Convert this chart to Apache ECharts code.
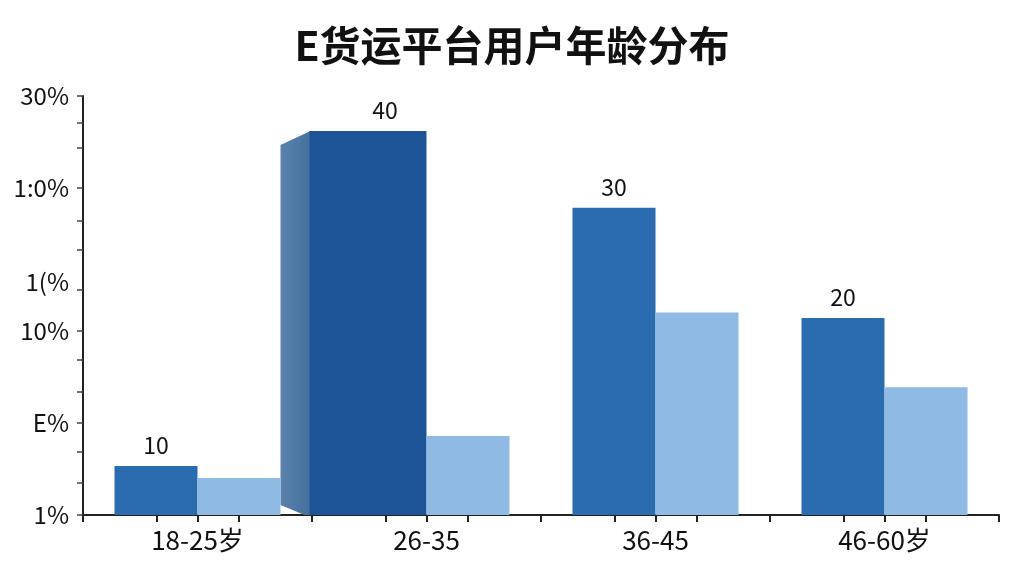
<!DOCTYPE html>
<html><head><meta charset="utf-8">
<script src="https://cdn.jsdelivr.net/npm/echarts@6/dist/echarts.min.js"></script>
<style>html,body{margin:0;padding:0;background:#fff}#c{width:1024px;height:576px}</style>
</head><body><div id="c"></div>
<script>
const categories = ['18-25岁', '26-35', '36-45', '46-60岁'];
const darkValues = [3.5, 27.5, 22.0, 14.1];
const lightValues = [2.65, 5.65, 14.5, 9.15];
const darkLabels = ['10', '40', '30', '20'];
const yLabelValues = [0, 6.6, 13.2, 16.7, 23.4, 30];
const yLabelTexts = ['1%', 'E%', '10%', '1(%', '1:0%', '30%'];
const yTickValues = [0, 2.3, 4.5, 6.6, 8.8, 11.1, 13.2, 16.1, 19.0, 21.1, 23.4, 26.3, 28.1, 30];
const xTickValues = [-0.5, -0.18, 0, 0.18, 0.5, 0.82, 1, 1.18, 1.5, 1.82, 2, 2.18, 2.5, 2.82, 3, 3.18, 3.5];
const wideBarIndex = [1];

const chart = echarts.init(document.getElementById('c'), null, {renderer: 'canvas'});
const font = '"Noto Sans CJK SC", "Noto Sans", sans-serif';
chart.setOption({
  backgroundColor: '#fff',
  animation: false,
  title: {
    text: 'E货运平台用户年龄分布', left: 'center', top: 20,
    textStyle: {fontFamily: font, fontSize: 41, fontWeight: 'bold', color: '#111'}
  },
  grid: {left: 83, right: 25, top: 96, bottom: 61, containLabel: false},
  xAxis: [{
    type: 'category', data: categories,
    axisLine: {lineStyle: {color: '#222', width: 2}},
    axisTick: {show: false},
    axisLabel: {fontFamily: font, fontSize: 26, color: '#111', margin: 12}
  }, {
    type: 'value', min: -0.5, max: 3.5, position: 'bottom',
    axisLine: {show: false}, splitLine: {show: false},
    axisLabel: {show: false},
    axisTick: {show: true, length: 7, inside: false, customValues: xTickValues, lineStyle: {color: '#222', width: 2}}
  }],
  yAxis: {
    type: 'value', min: 0, max: 30,
    axisLine: {show: true, onZero: false, lineStyle: {color: '#222', width: 2}},
    splitLine: {show: false},
    axisTick: {show: true, length: 6, customValues: yTickValues, lineStyle: {color: '#444', width: 1.5}},
    axisLabel: {
      customValues: yLabelValues, margin: 14,
      fontFamily: font, fontSize: 24, color: '#111',
      formatter: function (v) {
        let best = 0;
        yLabelValues.forEach((x, i) => { if (Math.abs(x - v) < Math.abs(yLabelValues[best] - v)) best = i; });
        return yLabelTexts[best];
      }
    }
  },
  series: [{
    type: 'bar', data: darkValues.map((v, i) => ({
      value: v,
      itemStyle: {color: i === 1 ? '#1d5497' : '#2b6bb0'}
    })),
    barWidth: 83, barGap: '0%',
    label: {
      show: true, position: 'top', distance: 9,
      fontFamily: font, fontSize: 23, color: '#111',
      formatter: p => darkLabels[p.dataIndex]
    }
  }, {
    type: 'bar', data: lightValues, barWidth: 83, barGap: '0%',
    itemStyle: {color: '#8fbae3'}
  }, {
    type: 'custom',
    data: wideBarIndex.map(i => [i, darkValues[i]]),
    renderItem: function (params, api) {
      const top = api.coord([api.value(0), api.value(1)]);
      const base = api.coord([api.value(0), 0]);
      const barLeft = top[0] - 83;
      const front = barLeft - 34;
      return {
        type: 'group',
        children: [{
          type: 'polygon',
          shape: {points: [[front + 1, top[1]], [front - 29, top[1] + 14], [front - 29, base[1] - 10], [front - 5, base[1]], [front + 1, base[1]]]},
          style: {fill: new echarts.graphic.LinearGradient(0, 0, 1, 0, [{offset: 0, color: '#5a82ac'}, {offset: 1, color: '#44709f'}])}
        }, {
          type: 'rect',
          shape: {x: front, y: top[1], width: 40, height: base[1] - top[1]},
          style: {fill: '#1d5497'}
        }]
      };
    },
    z: 1
  }]
});
</script>
</body></html>
